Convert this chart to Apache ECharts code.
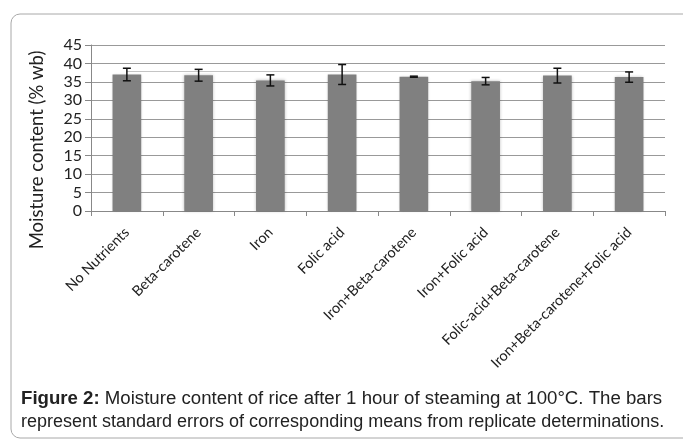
<!DOCTYPE html>
<html>
<head>
<meta charset="utf-8">
<script src="https://cdn.jsdelivr.net/npm/echarts@6/dist/echarts.min.js"></script>
<style>
  html, body { margin: 0; padding: 0; background: #fff; }
  #chart { width: 683px; height: 443px; }
</style>
</head>
<body>
<div id="chart"></div>
<script>
// treatments
const categories = ['No Nutrients', 'Beta-carotene', 'Iron', 'Folic acid', 'Iron+Beta-carotene',
  'Iron+Folic acid', 'Folic-acid+Beta-carotene', 'Iron+Beta-carotene+Folic acid']
// moisture content (% wb)
const means = [37.0, 36.8, 35.4, 37.0, 36.4, 35.2, 36.7, 36.3]
// standard errors
const errors = [1.7, 1.6, 1.5, 2.7, 0.15, 1.0, 2.0, 1.4]
const yTicks = [0, 45, 5]   // min, max, step

let myChart = echarts.init(document.getElementById('chart'))

let errData = means.map((m, i) => [i, m - errors[i], m + errors[i]])

var option = {
  animation: false,
  grid: { left: 91, top: 45, right: 18, bottom: 232 },
  xAxis: {
    type: 'category',
    data: categories,
    axisLine: { lineStyle: { color: '#888' } },
    axisTick: { show: true, length: 5, lineStyle: { color: '#888' } },
    axisLabel: {
      rotate: 45, margin: 19, fontSize: 14.5, color: '#222',
      fontFamily: 'Lato', interval: 0
    }
  },
  yAxis: {
    type: 'value',
    min: yTicks[0], max: yTicks[1], interval: yTicks[2],
    axisLine: { show: true, lineStyle: { color: '#888' } },
    axisTick: { show: true, length: 6, lineStyle: { color: '#888' } },
    splitLine: { lineStyle: { color: '#999' } },
    axisLabel: { fontSize: 16, color: '#222', fontFamily: 'Lato', margin: 9 }
  },
  series: [{
    type: 'bar',
    data: means,
    barWidth: '40%',
    itemStyle: { color: '#808080', shadowBlur: 3, shadowColor: 'rgba(0,0,0,0.25)' },
    markLine: {
      silent: true, symbol: 'none', label: { show: false },
      lineStyle: { color: '#c4c4c4', width: 1, type: 'solid' },
      data: [[{ coord: [0, 38] }, { coord: [7, 38] }]]
    }
  }, {
    type: 'custom',
    data: errData,
    renderItem: function (params, api) {
      let lo = api.coord([api.value(0), api.value(1)])
      let hi = api.coord([api.value(0), api.value(2)])
      let w = 4
      let st = { stroke: '#111', lineWidth: 1.5 }
      return {
        type: 'group',
        children: [
          { type: 'line', shape: { x1: hi[0], y1: hi[1], x2: lo[0], y2: lo[1] }, style: st },
          { type: 'line', shape: { x1: hi[0] - w, y1: hi[1], x2: hi[0] + w, y2: hi[1] }, style: st },
          { type: 'line', shape: { x1: lo[0] - w, y1: lo[1], x2: lo[0] + w, y2: lo[1] }, style: st }
        ]
      }
    },
    z: 5
  }],
  graphic: [{
    type: 'rect',
    shape: { x: 11, y: 14, width: 700, height: 424, r: 9 },
    style: { fill: 'none', stroke: '#a8a8a8', lineWidth: 1 },
    silent: true
  }, {
    type: 'text',
    x: 37, y: 150, rotation: Math.PI / 2,
    style: {
      text: 'Moisture content (% wb)', fontSize: 18.5, fontFamily: 'Lato',
      fill: '#222', align: 'center', verticalAlign: 'middle'
    }
  }, {
    type: 'text',
    x: 21, y: 399, scaleX: 1.035,
    style: {
      text: '{b|Figure 2:} Moisture content of rice after 1 hour of steaming at 100°C. The bars',
      fontSize: 18, fontFamily: 'Liberation Sans', fill: '#222', verticalAlign: 'middle',
      rich: { b: { fontWeight: 'bold', fontSize: 18, fontFamily: 'Liberation Sans', fill: '#222' } }
    }
  }, {
    type: 'text',
    x: 21, y: 422,
    style: {
      text: 'represent standard errors of corresponding means from replicate determinations.',
      fontSize: 18, fontFamily: 'Liberation Sans', fill: '#222', verticalAlign: 'middle'
    }
  }]
}

if (option && typeof option === 'object') {
  myChart.setOption(option)
}
</script>
</body>
</html>
